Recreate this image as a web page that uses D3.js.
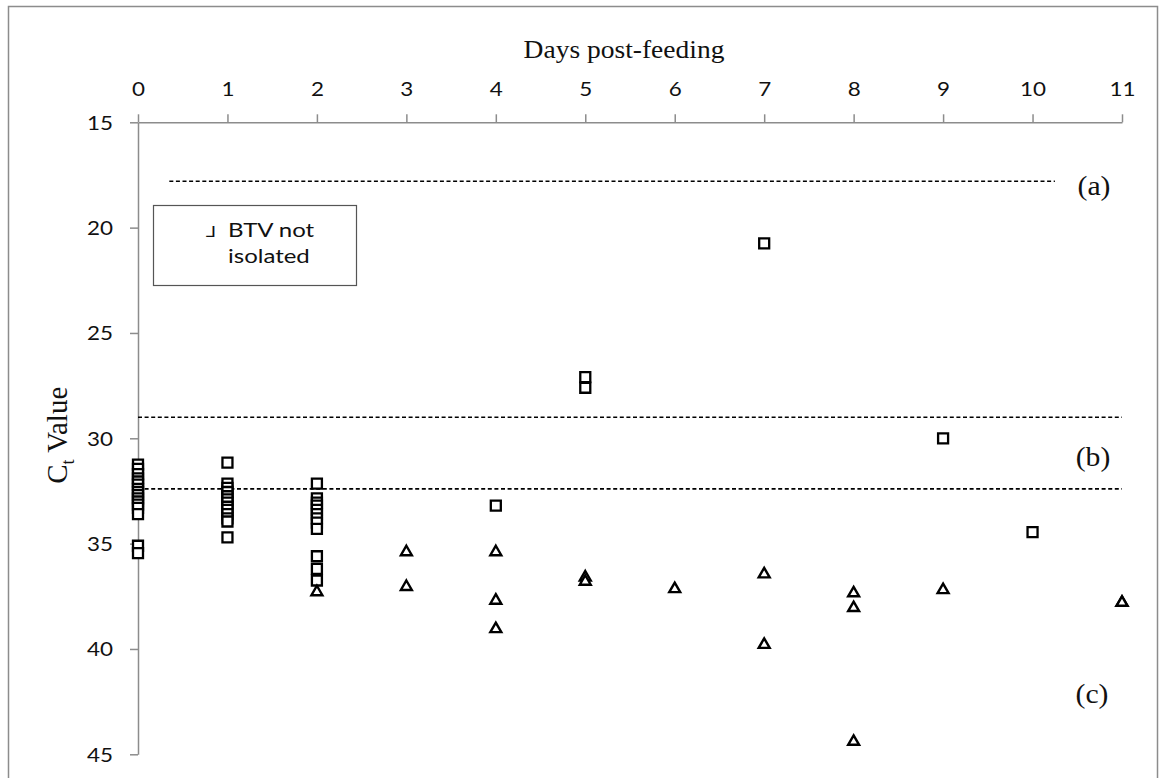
<!DOCTYPE html>
<html><head><meta charset="utf-8">
<script src="https://cdn.jsdelivr.net/npm/d3@7"></script>
<style>body{margin:0;background:#fff}</style>
</head><body>
<svg id="chart" width="1162" height="778"></svg>
<script>
// Samples from which BTV was isolated (drawn as squares)
const isolatedDay = [
  0,0,0,0,0,0,0,0,0,0,0,0,0,0,0,0,
  1,1,1,1,1,1,1,1,1,1,1,1,1,
  2,2,2,2,2,2,2,2,2,2,2,2,
  4,5,5,7,9,10
];
const isolatedCt = [
  31.25,31.45,31.7,31.9,32.05,32.2,32.4,32.55,32.7,32.85,33.0,33.15,33.3,33.6,35.1,35.45,
  31.15,32.15,32.35,32.55,32.75,32.9,33.05,33.25,33.4,33.6,33.8,33.95,34.7,
  32.15,32.85,33.05,33.2,33.4,33.6,33.8,34.0,34.3,35.6,36.2,36.75,
  33.2,27.1,27.6,20.75,30.0,34.45
];
// Samples from which BTV was not isolated (drawn as triangles)
const notIsolatedDay = [2,3,3,4,4,4,5,5,6,7,7,8,8,8,9,11,11];
const notIsolatedCt  = [37.3,35.4,37.05,35.4,37.7,39.05,36.6,36.8,37.15,36.45,39.8,37.35,38.05,44.4,37.2,37.8,37.8];

const dayTicks = [0,1,2,3,4,5,6,7,8,9,10,11];
const ctTicks = [15,20,25,30,35,40,45];

// Dashed Ct cut-off lines and the day span each covers
const cutoffCt   = [17.8, 29.0, 32.4];
const cutoffFrom = [0.35, 0, 0];
const cutoffTo   = [10.25, 11, 11];
const bandLabels = ["(a)", "(b)", "(c)"];

const svg = d3.select("#chart");
const axisGrey = "#8c8c8c";
const sx = 1.15; // horizontal widening of the lettering

const x = d3.scaleLinear().domain([0, 11]).range([138, 1122]);
const y = d3.scaleLinear().domain([15, 45]).range([122.3, 754.3]);

// outer frame
svg.append("rect")
  .attr("x", 8.5).attr("y", 6.5).attr("width", 1149).attr("height", 800)
  .attr("fill", "none").attr("stroke", axisGrey).attr("stroke-width", 1.5);

// top x axis
const gx = svg.append("g").attr("transform", `translate(0,${y(15)})`)
  .call(d3.axisTop(x).tickValues(dayTicks).tickSize(8).tickSizeOuter(0).tickPadding(18));
// left y axis
const gy = svg.append("g").attr("transform", `translate(${x(0)},0)`)
  .call(d3.axisLeft(y).tickValues(ctTicks).tickSize(8).tickSizeOuter(0).tickPadding(18));

[gx, gy].forEach(g => {
  g.select(".domain").attr("stroke", axisGrey).attr("stroke-width", 1.5);
  g.selectAll(".tick line").attr("stroke", axisGrey).attr("stroke-width", 1.5);
  g.selectAll(".tick text")
    .attr("fill", "#111")
    .style("font-family", "Lato, 'Open Sans', sans-serif")
    .style("font-size", "19.5px");
});
gx.selectAll(".tick text").attr("dy", "0em").attr("y", -26)
  .attr("transform", `scale(${sx},1)`);
gy.selectAll(".tick text").attr("x", -25 / sx).attr("dy", "0.36em")
  .attr("transform", `scale(${sx},1)`);

// axis titles
svg.append("text")
  .attr("transform", `translate(${x(5.5) - 6},58) scale(1.1,1)`)
  .attr("text-anchor", "middle")
  .style("font-family", "'Liberation Serif', 'Times New Roman', serif")
  .style("font-size", "25px").attr("fill", "#111")
  .text("Days post-feeding");

const yt = svg.append("text")
  .attr("transform", `translate(67,${y(30) - 3}) rotate(-90)`)
  .attr("text-anchor", "middle")
  .style("font-family", "'Liberation Serif', 'Times New Roman', serif")
  .style("font-size", "29px").attr("fill", "#111");
yt.append("tspan").text("C");
yt.append("tspan").attr("dy", 7).style("font-size", "18px").text("t");
yt.append("tspan").attr("dy", -7).text(" Value");

// dashed cut-off lines
svg.append("g").selectAll("line")
  .data(cutoffCt)
  .join("line")
  .attr("x1", (d, i) => x(cutoffFrom[i]))
  .attr("x2", (d, i) => x(cutoffTo[i]))
  .attr("y1", d => y(d)).attr("y2", d => y(d))
  .attr("stroke", "#000").attr("stroke-width", 1.6)
  .attr("stroke-dasharray", "4,2.6");

// band labels
const bandPos = [[1094, 195], [1093, 466], [1092, 703]];
svg.append("g").selectAll("text")
  .data(bandLabels)
  .join("text")
  .attr("transform", (d, i) => `translate(${bandPos[i][0]},${bandPos[i][1]}) scale(1.1,1)`)
  .attr("text-anchor", "middle")
  .style("font-family", "'Liberation Serif', 'Times New Roman', serif")
  .style("font-size", "27px").attr("fill", "#111")
  .text(d => d);

// isolated samples: squares
const square = d3.symbol().type(d3.symbolSquare).size(100);
svg.append("g").selectAll("path")
  .data(isolatedCt.map((c, i) => ({ day: isolatedDay[i], ct: c })))
  .join("path")
  .attr("d", square)
  .attr("transform", d => `translate(${x(d.day)},${y(d.ct)})`)
  .attr("fill", "#fff").attr("stroke", "#000").attr("stroke-width", 2.3);

// not isolated samples: triangles
const tri = d3.symbol().type(d3.symbolTriangle).size(52);
svg.append("g").selectAll("path")
  .data(notIsolatedCt.map((c, i) => ({ day: notIsolatedDay[i], ct: c })))
  .join("path")
  .attr("d", tri)
  .attr("transform", d => `translate(${x(d.day)},${y(d.ct)})`)
  .attr("fill", "#fff").attr("stroke", "#000").attr("stroke-width", 2.4)
  .attr("stroke-linejoin", "miter");

// legend box
svg.append("rect")
  .attr("x", 153.5).attr("y", 205.5).attr("width", 203).attr("height", 80)
  .attr("fill", "#fff").attr("stroke", "#555").attr("stroke-width", 1.2);
const legendFont = "Lato, 'Open Sans', sans-serif";
svg.append("text")
  .attr("transform", `translate(206,237) scale(1.2,1)`)
  .style("font-family", "'DejaVu Sans', sans-serif").style("font-size", "15px")
  .attr("fill", "#111").text("\u2143");
svg.append("text")
  .attr("transform", `translate(228,237) scale(1.2,1)`)
  .style("font-family", legendFont).style("font-size", "20px")
  .attr("fill", "#111").text("BTV not");
svg.append("text")
  .attr("transform", `translate(228,263) scale(1.2,1)`)
  .style("font-family", legendFont).style("font-size", "20px")
  .attr("fill", "#111").text("isolated");
</script>
</body></html>
